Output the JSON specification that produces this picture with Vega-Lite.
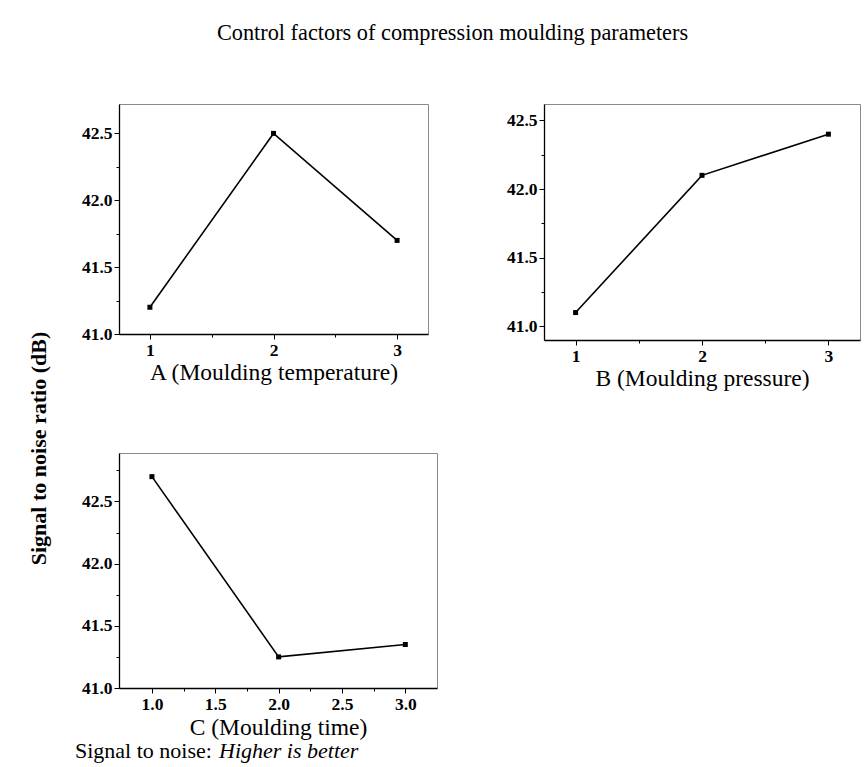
{
  "$schema": "https://vega.github.io/schema/vega-lite/v6.json",
  "background": "white",
  "padding": {"left": 26, "top": 22, "right": 0, "bottom": 0},
  "config": {
    "font": "Liberation Serif",
    "view": {"stroke": "#8a8a8a", "strokeWidth": 1},
    "axis": {
      "labelFont": "Liberation Serif", "labelFontWeight": "bold", "labelFontSize": 17.5, "labelColor": "black",
      "titleFont": "Liberation Serif", "titleFontWeight": "normal", "titleFontSize": 23.5, "titleColor": "black",
      "domainColor": "black", "domainWidth": 1.3, "tickColor": "black", "tickWidth": 1, "grid": false, "labelPadding": 2
    },
    "title": {"font": "Liberation Serif", "fontWeight": "normal", "color": "black"}
  },
  "datasets": {
    "A": [{"level": 1, "sn": 41.2}, {"level": 2, "sn": 42.5}, {"level": 3, "sn": 41.7}],
    "B": [{"level": 1, "sn": 41.1}, {"level": 2, "sn": 42.1}, {"level": 3, "sn": 42.4}],
    "C": [{"level": 1, "sn": 42.7}, {"level": 2, "sn": 41.25}, {"level": 3, "sn": 41.35}],
    "none": []
  },
  "title": {"text": "Control factors of compression moulding parameters", "fontSize": 22.3, "anchor": "middle", "frame": "bounds", "dx": 9, "offset": 59},
  "bounds": "flush",
  "columns": 2,
  "spacing": {"row": 113, "column": 107},
  "concat": [
    {
      "width": 309, "height": 230,
      "data": {"name": "A"},
      "layer": [
        {"mark": {"type": "line", "color": "black", "strokeWidth": 1.6}},
        {"mark": {"type": "point", "shape": "square", "filled": true, "color": "black", "size": 25, "opacity": 1}}
      ],
      "encoding": {
        "x": {"field": "level", "type": "quantitative", "scale": {"domain": [0.75, 3.25], "nice": false, "zero": false},
          "axis": {"values": [1, 1.5, 2, 2.5, 3], "labelExpr": "datum.value % 1 === 0 ? format(datum.value, 'd') : ''",
            "tickSize": {"condition": {"test": "datum.value % 1 !== 0", "value": 3}, "value": 5},
            "title": "A (Moulding temperature)", "titlePadding": 2}},
        "y": {"field": "sn", "type": "quantitative", "scale": {"domain": [41, 42.72], "nice": false, "zero": false},
          "axis": {"values": [41, 41.25, 41.5, 41.75, 42, 42.25, 42.5], "labelExpr": "(datum.value * 2) % 1 === 0 ? format(datum.value, '.1f') : ''",
            "tickSize": {"condition": {"test": "(datum.value * 2) % 1 !== 0", "value": 3}, "value": 5}, "title": null}}
      }
    },
    {
      "width": 316, "height": 236,
      "data": {"name": "B"},
      "layer": [
        {"mark": {"type": "line", "color": "black", "strokeWidth": 1.6}},
        {"mark": {"type": "point", "shape": "square", "filled": true, "color": "black", "size": 25, "opacity": 1}}
      ],
      "encoding": {
        "x": {"field": "level", "type": "quantitative", "scale": {"domain": [0.75, 3.25], "nice": false, "zero": false},
          "axis": {"values": [1, 1.5, 2, 2.5, 3], "labelExpr": "datum.value % 1 === 0 ? format(datum.value, 'd') : ''",
            "tickSize": {"condition": {"test": "datum.value % 1 !== 0", "value": 3}, "value": 5},
            "title": "B (Moulding pressure)", "titlePadding": 2}},
        "y": {"field": "sn", "type": "quantitative", "scale": {"domain": [40.9, 42.62], "nice": false, "zero": false},
          "axis": {"values": [41, 41.25, 41.5, 41.75, 42, 42.25, 42.5], "labelExpr": "(datum.value * 2) % 1 === 0 ? format(datum.value, '.1f') : ''",
            "tickSize": {"condition": {"test": "(datum.value * 2) % 1 !== 0", "value": 3}, "value": 5}, "title": null}}
      }
    },
    {
      "width": 318, "height": 235,
      "data": {"name": "C"},
      "title": {"text": "Signal to noise:", "orient": "bottom", "anchor": "start", "frame": "group", "dx": -44, "fontSize": 22, "offset": 2},
      "layer": [
        {"mark": {"type": "line", "color": "black", "strokeWidth": 1.6}},
        {"mark": {"type": "point", "shape": "square", "filled": true, "color": "black", "size": 25, "opacity": 1}}
      ],
      "encoding": {
        "x": {"field": "level", "type": "quantitative", "scale": {"domain": [0.74, 3.25], "nice": false, "zero": false},
          "axis": {"values": [1, 1.25, 1.5, 1.75, 2, 2.25, 2.5, 2.75, 3], "labelExpr": "(datum.value * 2) % 1 === 0 ? format(datum.value, '.1f') : ''",
            "tickSize": {"condition": {"test": "(datum.value * 2) % 1 !== 0", "value": 3}, "value": 5},
            "title": "C (Moulding time)", "titlePadding": 3}},
        "y": {"field": "sn", "type": "quantitative", "scale": {"domain": [41, 42.89], "nice": false, "zero": false},
          "axis": {"values": [41, 41.25, 41.5, 41.75, 42, 42.25, 42.5, 42.75], "labelExpr": "(datum.value * 2) % 1 === 0 ? format(datum.value, '.1f') : ''",
            "tickSize": {"condition": {"test": "(datum.value * 2) % 1 !== 0", "value": 3}, "value": 5},
            "title": "Signal to noise ratio (dB)", "titleFontWeight": "bold", "titleFontSize": 22, "titleX": -69, "titleY": -5}}
      }
    },
    {
      "width": 1, "height": 1,
      "view": {"stroke": null},
      "data": {"name": "none"},
      "title": {"text": "Higher is better", "orient": "bottom", "anchor": "start", "frame": "group", "dx": -325, "offset": 287, "fontSize": 22, "fontStyle": "italic"},
      "mark": {"type": "point"}
    }
  ]
}
